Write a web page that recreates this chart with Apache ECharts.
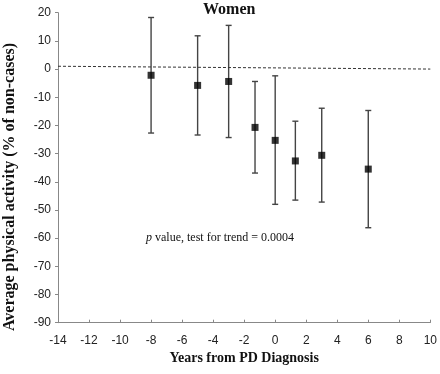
<!DOCTYPE html>
<html>
<head>
<meta charset="utf-8">
<script src="https://cdn.jsdelivr.net/npm/echarts@6/dist/echarts.min.js"></script>
<style>html,body{margin:0;padding:0;background:#fff;}#c{width:440px;height:374px;}</style>
</head>
<body>
<div id="c"></div>
<script>
var years = [-8, -5, -3, -1.3, 0, 1.3, 3, 6];
var means = [-2.2, -5.8, -4.4, -20.7, -25.3, -32.6, -30.6, -35.5];
var lowers = [-22.7, -23.4, -24.3, -36.9, -48.0, -46.5, -47.2, -56.3];
var uppers = [18.3, 11.8, 15.5, -4.4, -2.4, -18.5, -13.9, -14.7];
var refLineX = [-14, 10];
var refLineY = [1, 0];
var xTicks = [-14, 10, 2];
var yTicks = [-90, 20, 10];

var chart = echarts.init(document.getElementById('c'), null, {renderer: 'canvas'});
var serif = '"Liberation Serif", "Times New Roman", serif';
var sans = '"Liberation Sans", Arial, sans-serif';

var errData = years.map(function (x, i) { return [x, lowers[i], uppers[i]]; });
var ptData = years.map(function (x, i) { return [x, means[i]]; });
var refData = refLineX.map(function (x, i) { return [x, refLineY[i]]; });

chart.setOption({
  animation: false,
  backgroundColor: '#fff',
  title: {
    text: 'Women', left: 198, top: -3,
    textStyle: {fontFamily: serif, fontWeight: 'bold', fontSize: 16, color: '#111'}
  },
  grid: {left: 58, right: 8, top: 12.7, bottom: 51.3, containLabel: false},
  xAxis: {
    type: 'value', min: xTicks[0], max: xTicks[1], interval: xTicks[2],
    name: 'Years from PD Diagnosis', nameLocation: 'middle', nameGap: 26,
    nameTextStyle: {fontFamily: serif, fontWeight: 'bold', fontSize: 14, color: '#111'},
    axisLine: {onZero: false, lineStyle: {color: '#888', width: 1}},
    axisTick: {inside: true, length: 3, lineStyle: {color: '#888'}},
    axisLabel: {fontFamily: sans, fontSize: 12, color: '#222', margin: 12},
    splitLine: {show: false}
  },
  yAxis: {
    type: 'value', min: yTicks[0], max: yTicks[1], interval: yTicks[2],
    axisLine: {show: true, onZero: false, lineStyle: {color: '#888', width: 1}},
    axisTick: {show: true, inside: false, length: 3, lineStyle: {color: '#888'}},
    axisLabel: {fontFamily: sans, fontSize: 12, color: '#222', margin: 7},
    splitLine: {show: false}
  },
  graphic: [
    {
      type: 'text', x: 10, y: 187, rotation: Math.PI / 2,
      style: {
        text: 'Average physical activity (% of non-cases)',
        fontFamily: serif, fontWeight: 'bold', fontSize: 16, fill: '#111',
        textAlign: 'center', textVerticalAlign: 'middle'
      }
    },
    {
      type: 'text', x: 146, y: 238,
      style: {
        rich: {
          i: {fontFamily: serif, fontStyle: 'italic', fontSize: 12, fill: '#111'},
          n: {fontFamily: serif, fontSize: 12, fill: '#111'}
        },
        text: '{i|p}{n| value, test for trend = 0.0004}',
        textAlign: 'left', textVerticalAlign: 'middle'
      }
    }
  ],
  series: [
    {
      type: 'line', data: refData, symbol: 'none', silent: true,
      lineStyle: {color: '#333', width: 1, type: [3, 2]}
    },
    {
      type: 'custom', data: errData,
      renderItem: function (params, api) {
        var x = api.value(0);
        var lo = api.coord([x, api.value(1)]);
        var hi = api.coord([x, api.value(2)]);
        var cw = 3;
        var st = {stroke: '#444', lineWidth: 1.4};
        return {
          type: 'group',
          children: [
            {type: 'line', shape: {x1: lo[0], y1: lo[1], x2: hi[0], y2: hi[1]}, style: st},
            {type: 'line', shape: {x1: lo[0] - cw, y1: lo[1], x2: lo[0] + cw, y2: lo[1]}, style: st},
            {type: 'line', shape: {x1: hi[0] - cw, y1: hi[1], x2: hi[0] + cw, y2: hi[1]}, style: st}
          ]
        };
      },
      encode: {x: 0, y: [1, 2]}
    },
    {
      type: 'scatter', data: ptData, symbol: 'rect', symbolSize: 7,
      itemStyle: {color: '#000'}
    }
  ]
});
</script>
</body>
</html>
